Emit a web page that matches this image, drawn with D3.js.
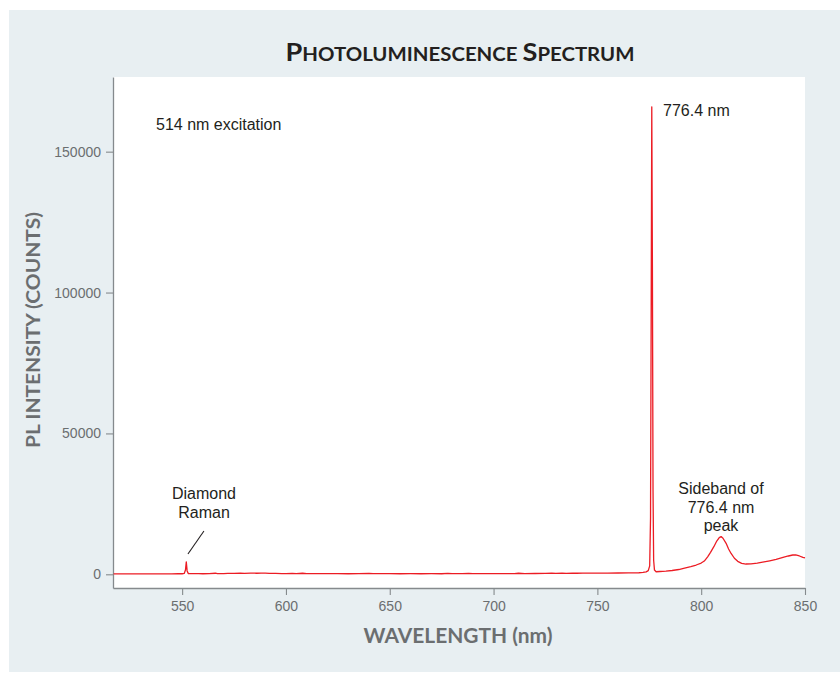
<!DOCTYPE html>
<html>
<head>
<meta charset="utf-8">
<script src="https://cdn.jsdelivr.net/npm/d3@7"></script>
<style>
  body { margin: 0; background: #ffffff; }
  svg { display: block; }
  .tick text { font-family: "Liberation Sans", Arial, sans-serif; }
</style>
</head>
<body>
<div id="chart"></div>
<script>
// wavelength (nm) and PL counts
var wavelengths = [517, 520, 525, 530, 535, 540, 545, 548, 550, 551, 551.6, 552.0, 552.4, 553, 555, 558, 560, 563, 566, 567,
    570, 572, 575, 578, 580, 583, 586, 588, 590, 592, 595, 598, 600, 603, 605, 608, 610, 615, 620, 625,
    630, 635, 640, 642, 645, 650, 655, 660, 665, 670, 675, 678, 680, 685, 688, 690, 695, 700, 705, 710,
    712, 715, 720, 725, 728, 730, 733, 735, 738, 740, 743, 745, 748, 750, 755, 760, 765, 770, 772, 773.5,
    774.5, 775.2, 775.6, 775.9, 776.2, 776.5, 776.8, 777.1, 777.5, 778.3, 780, 783, 786, 789.2, 792, 795, 797.6, 800, 801.5, 803.1,
    804.5, 806.1, 807.5, 808.7, 809.6, 810.5, 812.0, 813.2, 814.4, 816, 817.6, 819.5, 821.6, 824, 827, 829.6, 833, 836.1, 839, 842,
    844.1, 845.5, 847.3, 849, 850];
var counts = [150, 170, 160, 170, 180, 170, 180, 190, 200, 300, 1500, 4400, 1200, 250, 210, 230, 200, 240, 380, 220,
    260, 360, 300, 400, 350, 430, 380, 450, 400, 350, 300, 260, 270, 360, 240, 380, 220, 240, 210, 230,
    200, 210, 350, 220, 210, 230, 200, 220, 200, 210, 200, 360, 220, 230, 340, 230, 240, 220, 240, 260,
    380, 250, 280, 300, 420, 330, 380, 350, 400, 370, 420, 400, 440, 420, 440, 460, 480, 560, 650, 850,
    1300, 3000, 20000, 90000, 165900, 110000, 30000, 5000, 1500, 900, 1000, 1150, 1350, 1700, 2200, 2700, 3300, 4000, 4700, 6200,
    7800, 9800, 11800, 13000, 13400, 12800, 11000, 9000, 7400, 5700, 4600, 3900, 3650, 3700, 3950, 4300, 4800, 5300, 5900, 6500,
    6850, 6900, 6500, 6000, 5800];

var xTicks = [550, 600, 650, 700, 750, 800, 850];
var yTicks = [0, 50000, 100000, 150000];

var W = 840, H = 675;
var plot = {left: 113, right: 805, top: 77, bottom: 588};

var svg = d3.select("#chart").append("svg")
    .attr("width", W)
    .attr("height", H);

// light panel behind everything
svg.append("rect")
    .attr("x", 9).attr("y", 10)
    .attr("width", W - 9).attr("height", 662)
    .attr("fill", "#e8eff2");

svg.append("rect")
    .attr("x", plot.left).attr("y", plot.top)
    .attr("width", plot.right - plot.left).attr("height", plot.bottom - plot.top)
    .attr("fill", "#ffffff");

var x = d3.scaleLinear().domain([516.7, 850]).range([plot.left, plot.right]);
var y = d3.scaleLinear().domain([-4860, 176500]).range([plot.bottom, plot.top]);

var data = wavelengths.map(function (w, i) { return {w: w, c: counts[i]}; });

// axes
var xAxis = svg.append("g")
    .attr("transform", "translate(0," + plot.bottom + ")")
    .call(d3.axisBottom(x).tickValues(xTicks).tickSize(7).tickSizeOuter(0).tickPadding(5).tickFormat(d3.format("d")));
var yAxis = svg.append("g")
    .attr("transform", "translate(" + plot.left + ",0)")
    .call(d3.axisLeft(y).tickValues(yTicks).tickSize(7).tickSizeOuter(0).tickPadding(5).tickFormat(d3.format("d")));

[xAxis, yAxis].forEach(function (a) {
    a.select(".domain").attr("stroke", "#858a8d").attr("stroke-width", 1.3);
    a.selectAll(".tick line").attr("stroke", "#858a8d").attr("stroke-width", 1.1);
    a.selectAll(".tick text").attr("fill", "#6b6e70").style("font-size", "14px");
});
xAxis.selectAll(".tick text").attr("dy", "0.75em");

// spectrum
svg.append("path")
    .datum(data)
    .attr("fill", "none")
    .attr("stroke", "#ec1c24")
    .attr("stroke-width", 1.3)
    .attr("stroke-linejoin", "round")
    .attr("d", d3.line()
        .x(function (d) { return x(d.w); })
        .y(function (d) { return y(d.c); }));

// titles
var title = svg.append("text")
    .attr("x", 460).attr("y", 61)
    .attr("text-anchor", "middle")
    .attr("textLength", 349)
    .attr("lengthAdjust", "spacingAndGlyphs")
    .style("font-family", "Lato, 'DejaVu Sans', sans-serif")
    .style("font-weight", "bold")
    .attr("fill", "#231f20");
title.append("tspan").style("font-size", "24px").text("P");
title.append("tspan").style("font-size", "18px").text("HOTOLUMINESCENCE ");
title.append("tspan").style("font-size", "24px").text("S");
title.append("tspan").style("font-size", "18px").text("PECTRUM");

svg.append("text")
    .attr("x", 458).attr("y", 643)
    .attr("text-anchor", "middle")
    .attr("textLength", 189)
    .attr("lengthAdjust", "spacingAndGlyphs")
    .style("font-family", "Lato, 'DejaVu Sans', sans-serif")
    .style("font-weight", "bold")
    .style("font-size", "20px")
    .attr("fill", "#6b6e70")
    .text("WAVELENGTH (nm)");

svg.append("text")
    .attr("transform", "translate(40,330) rotate(-90)")
    .attr("text-anchor", "middle")
    .attr("textLength", 236)
    .attr("lengthAdjust", "spacingAndGlyphs")
    .style("font-family", "Lato, 'DejaVu Sans', sans-serif")
    .style("font-weight", "bold")
    .style("font-size", "18px")
    .attr("fill", "#6b6e70")
    .text("PL INTENSITY (COUNTS)");

// annotations
function note(lines, cx, cy, anchor) {
    var t = svg.append("text")
        .attr("text-anchor", anchor)
        .style("font-family", "'Liberation Sans', Arial, sans-serif")
        .style("font-size", "16px")
        .attr("fill", "#231f20");
    lines.forEach(function (s, i) {
        t.append("tspan").attr("x", cx).attr("y", cy + i * 18.5).text(s);
    });
}
note(["514 nm excitation"], 156, 130, "start");
note(["776.4 nm"], 663, 116, "start");
note(["Diamond", "Raman"], 204, 499, "middle");
note(["Sideband of", "776.4 nm", "peak"], 721, 494, "middle");

svg.append("line")
    .attr("x1", x(552.8)).attr("y1", 554)
    .attr("x2", x(560.5)).attr("y2", 531)
    .attr("stroke", "#231f20")
    .attr("stroke-width", 1.1);
</script>
</body>
</html>
